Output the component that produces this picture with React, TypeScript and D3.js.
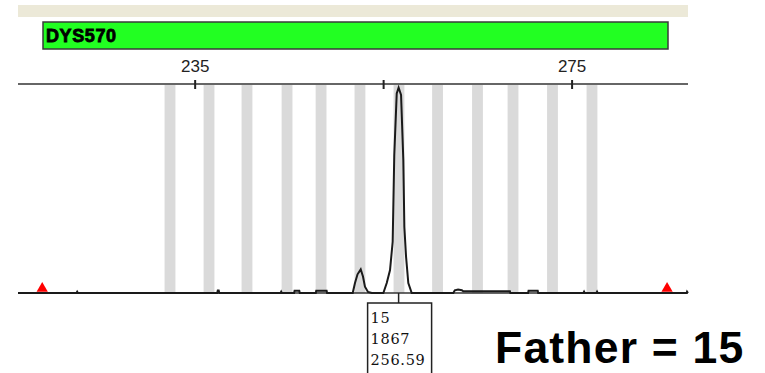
import React from "react";
import * as d3 from "d3";

// Marker name and called allele
const markerName = "DYS570";
const calledAllele = "15";
const calledHeight = 1867;
const calledSize = 256.59;
const callText = "Father = 15";

// Size axis ticks (bp) and which of them carry a label
const tickValues = [235, 255, 275];
const tickLabels = ["235", "", "275"];

// Allele bin centres (bp)
const binCenters = [232.33, 236.47, 240.5, 244.75, 248.36, 252.49, 256.63, 260.72, 264.96, 268.73, 272.92, 277.11];
const binWidth = 1.15;

// Size-standard markers (bp)
const sizeMarkers = [218.77, 285.08];

// Electropherogram trace: [size in bp, signal in RFU]
const traceBp = [
  216.2, 222.4, 222.48, 222.56,
  237.34, 237.4, 237.5, 237.56,
  244.06, 244.13, 244.2,
  245.5, 245.55, 246.05, 246.1,
  247.8, 247.85, 248.95, 249.0,
  251.72, 251.96, 252.23, 252.57, 252.81, 253.02, 253.34, 253.74,
  254.97, 255.33, 255.68, 255.96, 256.13, 256.39, 256.59, 256.85, 257.09, 257.2, 257.38, 257.62, 257.98, 258.12,
  262.4, 262.55, 262.9, 263.3, 263.45, 268.4, 268.45,
  270.33, 270.38, 271.35, 271.4,
  276.2, 276.27, 276.34,
  277.58, 277.65, 277.72,
  287.15, 287.2, 287.3,
];
const traceRfu = [
  0, 0, 12, 0,
  0, 22, 22, 0,
  0, 12, 0,
  0, 20, 20, 0,
  0, 20, 20, 0,
  0, 91, 170, 215, 150, 57, 10, 0,
  0, 91, 209, 466, 1254, 1815, 1867, 1800, 1209, 600, 330, 91, 0, 0,
  0, 25, 32, 25, 15, 15, 0,
  0, 20, 20, 0,
  0, 12, 0,
  0, 12, 0,
  0, 12, 0,
];

const W = 765;
const H = 373;

export default function App() {
  const x = d3.scaleLinear().domain([216.2, 287.3]).range([18, 688]);
  const y = d3.scaleLinear().domain([0, 1900]).range([293, 84]);

  const pts: [number, number][] = traceBp.map((b, i) => [b, traceRfu[i]]);
  const line = d3
    .line<[number, number]>()
    .x((d) => x(d[0]))
    .y((d) => y(d[1]));

  const xLeft = x.range()[0];
  const xRight = x.range()[1];
  const yTop = y.range()[1];
  const yBase = y(0);
  const peakX = x(calledSize);

  const tri = d3.symbol().type(d3.symbolTriangle).size(55)();

  return (
    <svg
      width={W}
      height={H}
      style={{ position: "absolute", left: 0, top: 0, display: "block", background: "#fff" }}
    >
      {/* window strip */}
      <rect x={xLeft} y={5} width={xRight - xLeft} height={12} fill="#ECE9D8" />

      {/* marker bar */}
      <rect x={43} y={22} width={625} height={27} fill="#22FF22" stroke="#3a3a3a" strokeWidth={1.5} />
      <text
        x={46}
        y={42}
        fontFamily="'Liberation Sans', Arial, sans-serif"
        fontWeight="bold"
        fontSize={18}
        fill="#000"
        stroke="#000"
        strokeWidth={0.8}
        letterSpacing={0.6}
      >
        {markerName}
      </text>

      {/* allele bins */}
      {binCenters.map((c, i) => (
        <rect
          key={i}
          x={x(c - binWidth / 2)}
          y={yTop + 1}
          width={x(c + binWidth / 2) - x(c - binWidth / 2)}
          height={yBase - yTop - 1}
          fill="#DADADA"
        />
      ))}

      {/* top size axis */}
      <line x1={xLeft} x2={xRight} y1={yTop} y2={yTop} stroke="#333" strokeWidth={1.6} />
      {tickValues.map((t, i) => (
        <g key={t}>
          <line x1={x(t)} x2={x(t)} y1={yTop - 4} y2={yTop + 5} stroke="#222" strokeWidth={2} />
          {tickLabels[i] && (
            <text
              x={x(t)}
              y={72}
              textAnchor="middle"
              fontFamily="'Liberation Sans', Arial, sans-serif"
              fontSize={17}
              fill="#222"
            >
              {tickLabels[i]}
            </text>
          )}
        </g>
      ))}

      {/* baseline */}
      <line x1={xLeft} x2={xRight} y1={yBase} y2={yBase} stroke="#333" strokeWidth={1.6} />

      {/* trace */}
      <path d={line(pts) || ""} fill="none" stroke="#1a1a1a" strokeWidth={2} strokeLinejoin="miter" />

      {/* size standard markers */}
      {sizeMarkers.map((s, i) => (
        <path key={i} d={tri || ""} transform={`translate(${x(s)},${yBase - 4.5})`} fill="#FF0000" />
      ))}

      {/* peak label */}
      <line x1={peakX} x2={peakX} y1={yBase} y2={303} stroke="#222" strokeWidth={1.5} />
      <rect x={peakX - 31} y={303} width={64} height={80} fill="#fff" stroke="#222" strokeWidth={1.5} />
      {[calledAllele, String(calledHeight), calledSize.toFixed(2)].map((s, i) => (
        <text
          key={i}
          x={peakX - 28}
          y={323 + i * 21}
          fontFamily="'DejaVu Serif', 'Liberation Serif', serif"
          fontSize={14.5}
          letterSpacing={0.7}
          fill="#111"
        >
          {s}
        </text>
      ))}

      {/* call text */}
      <text
        x={495}
        y={363}
        fontFamily="'Liberation Sans', Arial, sans-serif"
        fontWeight="bold"
        fontSize={44.5}
        fill="#000"
        letterSpacing={1.2}
      >
        {callText}
      </text>
    </svg>
  );
}
